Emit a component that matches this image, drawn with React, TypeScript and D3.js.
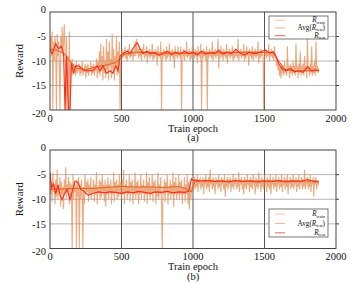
import React from "react";
import * as d3 from "d3";

const xTicks = [0, 500, 1000, 1500, 2000];
const yTicks = [0, -5, -10, -15, -20];

// R_train read every 5 epochs (0..1880)
const trainA = [
  -8, -5, -9, -4, -20, -6, -10, -5, -7, -20, -4.5, -9, -6, -11, -20, -5, -8, -3, -9, -6,
  -2.5, -8, -20, -5, -20, -9, -20, -4, -20, -10, -12, -9.5, -13, -10.5, -12.5, -11, -13, -10, -12.5, -11.5,
  -12, -10.5, -13, -11, -12.5, -10, -13, -11.5, -12, -10.5, -13.5, -11, -12.5, -10.5, -13, -11.5, -12, -10, -13, -11,
  -12.5, -10.5, -13, -11, -12, -9.5, -13.5, -10, -12.5, -8, -13, -6.5, -12, -9, -14, -7, -12.5, -10, -13.5, -5.5,
  -12, -8, -14, -6, -11, -9.5, -13.5, -4.5, -12, -7.5, -14, -9, -11.5, -5, -13, -8, -12.5, -6, -20, -9,
  -8.5, -7.5, -9.5, -8, -9, -7, -9.5, -8.5, -10, -7.5, -9, -6.5, -9.5, -8, -9, -7.5, -10, -8, -9, -6,
  -9, -5.5, -8.5, -7.5, -9.5, -7, -9, -8, -10, -7.5, -8.5, -6.5, -9.5, -8, -9, -7, -10.5, -8, -9, -7.5,
  -9.5, -8, -9, -6.5, -10, -8, -9.5, -7.5, -9, -8, -11, -7, -9, -8.5, -9.5, -6, -20, -8, -9.5, -7.5,
  -9, -8, -10, -7, -9.5, -8, -9, -6.5, -10, -8, -9, -7.5, -9.5, -8, -11.5, -7, -9, -8.5, -9.5, -7,
  -9, -8, -9.5, -7, -20, -8.5, -9, -7.5, -10, -8, -9, -6, -9.5, -8, -9, -7.5, -10, -8, -9.5, -7,
  -9, -8, -9.5, -7.5, -9, -8, -10.5, -7, -9, -8, -9.5, -6.5, -20, -8, -9.5, -7.5, -9, -8, -10, -7,
  -20, -8, -9.5, -7.5, -9, -8, -9.5, -6, -10, -8, -9, -7.5, -9.5, -8, -9, -5.5, -11.5, -8, -9.5, -7,
  -9, -8, -10, -7.5, -9, -8, -9.5, -6.5, -10.5, -8, -9, -7.5, -9.5, -8, -9, -7, -10, -8, -9.5, -7.5,
  -9, -8, -9.5, -5.5, -10, -8, -9, -7.5, -9.5, -8, -9, -6.5, -10, -8, -9.5, -7, -9, -8, -11, -7.5,
  -9, -8, -9.5, -7, -10, -8, -9, -7.5, -9.5, -8, -9, -6, -10.5, -8, -9.5, -7.5, -9, -8, -9.5, -20,
  -8, -9, -7.5, -9.5, -8, -9, -6.5, -10, -8, -9, -7.5, -9.5, -8, -10, -7, -9, -9.5, -11, -10, -12,
  -10.5, -13, -11, -13.5, -10.5, -12.5, -11, -13, -10, -12.5, -11.5, -13, -7, -12, -11, -13.5, -10.5, -12.5, -11, -13,
  -10, -12.5, -11, -13, -6.5, -12, -11, -13.5, -10.5, -12.5, -8, -13, -11, -12.5, -10.5, -13, -9, -12, -11, -13.5,
  -5, -12, -11, -13, -10.5, -12.5, -7, -13, -11, -12.5, -10, -13, -6, -12, -11, -12.5, -11.5,
];

const trainB = [
  -5, -9, -6.5, -10.5, -4.5, -8.5, -7, -11, -6, -9.5, -4, -10, -7, -8.5, -5.5, -11.5, -6.5, -9, -7.5, -12,
  -6, -9, -3.5, -10, -7, -8.5, -5.5, -11, -6.5, -9.5, -7, -20, -5, -10, -6.5, -8.5, -7, -20, -6, -9.5,
  -5.5, -20, -7, -10, -6, -8.5, -20, -7.5, -11, -5, -9, -6.5, -8.5, -6, -10.5, -7, -9, -5.5, -10, -7.5,
  -8.5, -6, -10.5, -7, -9, -4.5, -11, -7.5, -8.5, -6, -10, -6.5, -9.5, -5, -8.5, -7, -10.5, -6, -11.5, -7,
  -9, -5.5, -10, -7, -8.5, -6, -11, -7.5, -9, -4.5, -10.5, -6.5, -8.5, -6, -10, -7, -9.5, -5, -9, -6.5,
  -10, -6, -9, -4, -11, -7, -8.5, -6, -10, -7.5, -9, -5, -10.5, -6.5, -8.5, -6, -11, -7.5, -9, -4.5,
  -10, -6.5, -9, -6, -11, -7.5, -9, -5, -10, -7, -8.5, -6, -10.5, -7.5, -9, -4.5, -11, -6.5, -9, -5.5,
  -10, -7.5, -9, -5, -10.5, -6.5, -8.5, -6, -11, -7.5, -9.5, -4.5, -10, -7, -9, -5.5, -11, -20, -7.5, -9,
  -6, -10.5, -6.5, -8.5, -5, -11, -7.5, -9, -6, -10, -7, -9, -4.5, -11.5, -6.5, -9, -5.5, -10, -7.5, -9,
  -5, -10, -6.5, -9, -6, -11, -7.5, -9, -5.5, -10.5, -7, -9, -5, -11, -6.5, -12, -6, -10, -7.5, -8.5,
  -6.5, -7.5, -5.5, -8, -6, -7.5, -5, -8.5, -6, -7, -5.5, -8, -6.5, -7.5, -5.5, -9, -6, -7, -5, -8,
  -6.5, -7.5, -5.5, -8.5, -4, -7, -6, -8, -5.5, -7.5, -6.5, -9, -5.5, -7, -6, -8, -5, -7.5, -6.5, -8.5,
  -5.5, -7, -6, -8, -5, -9.5, -6.5, -7.5, -5.5, -8, -6, -7, -5.5, -8.5, -6.5, -7.5, -5, -8, -6, -7,
  -5.5, -8, -6.5, -7.5, -4.5, -8.5, -6, -7, -5.5, -8, -6.5, -9, -5.5, -7.5, -6, -8, -5, -7, -6.5, -8.5,
  -5.5, -7.5, -6, -8, -5, -7, -6.5, -9, -5.5, -7.5, -6, -8, -4.5, -7, -6.5, -8.5, -5.5, -7.5, -6, -8,
  -5, -7, -6.5, -8.5, -5.5, -7.5, -6, -8, -5, -9, -6.5, -7, -5.5, -8, -6, -7.5, -5, -8.5, -6.5, -7,
  -5.5, -8, -6, -7.5, -5, -8.5, -6.5, -7, -5.5, -8, -6, -7.5, -5, -9, -6.5, -7, -5.5, -8, -6, -7.5,
  -5, -8, -6.5, -7, -5.5, -8.5, -6, -7.5, -5, -8, -6.5, -7, -5.5, -8, -6, -7.5, -4, -8, -6.5, -7,
  -5.5, -8, -6, -7.5, -5, -8.5, -6.5, -7, -5.5, -9.5, -6, -7, -5.5, -8, -6.5, -7, -6.5,
];

const testEpochA = [0, 15, 40, 60, 80, 95, 105, 115, 130, 140, 150, 165, 180, 200, 220, 240, 270, 300, 330, 350, 370, 395, 420, 440, 460, 475, 490, 510, 540, 560, 590, 610, 630, 650, 680, 700, 730, 760, 790, 820, 850, 880, 910, 940, 970, 1000, 1030, 1060, 1090, 1120, 1150, 1180, 1210, 1240, 1270, 1300, 1330, 1360, 1390, 1420, 1450, 1480, 1510, 1540, 1560, 1580, 1600, 1620, 1650, 1680, 1710, 1740, 1770, 1800, 1830, 1860, 1880];
const testA = [-7.7, -8.5, -6.5, -7.5, -7, -8.5, -20, -9, -20, -20, -10.5, -12.5, -11, -11, -11.5, -12, -12, -12, -11, -12, -11, -12.5, -12, -12.5, -11, -12, -9, -8.5, -8, -8.5, -7, -6.3, -7.5, -8.5, -8, -8.5, -8.3, -8.8, -8.5, -8, -8.7, -8.2, -8.6, -8, -8.5, -8.2, -8.8, -8, -8.6, -8.3, -8.5, -7.8, -8.6, -8.2, -8.5, -7.6, -8.4, -8.8, -8.2, -8.5, -8.4, -8, -7.8, -8.4, -8.1, -9, -10.5, -11.5, -12, -11.5, -12.2, -12, -12.3, -11.2, -12, -11.8, -12];

const avgEpochA = [0, 50, 100, 140, 180, 250, 320, 400, 460, 490, 520, 600, 700, 800, 1000, 1200, 1400, 1560, 1600, 1640, 1700, 1880];
const avgA = [-7.6, -7.8, -8.5, -10, -11.4, -11.8, -11.2, -10.8, -10.3, -9.5, -8.6, -8.2, -8.3, -8.4, -8.4, -8.3, -8.2, -8.3, -10, -11.7, -12, -12];

const testEpochB = [0, 12, 25, 40, 55, 70, 85, 100, 120, 140, 160, 175, 198, 215, 235, 268, 300, 340, 380, 420, 460, 500, 540, 580, 620, 660, 700, 740, 780, 820, 860, 900, 940, 970, 990, 1005, 1020, 1050, 1100, 1150, 1200, 1250, 1300, 1350, 1400, 1450, 1500, 1550, 1600, 1650, 1700, 1750, 1800, 1850, 1880];
const testB = [-4.6, -7.7, -6.9, -8.9, -7.1, -9.2, -10.1, -9, -8, -10.1, -8, -6.3, -6.7, -8, -8.3, -9.2, -8.8, -8.5, -8.7, -8.5, -8.6, -8.8, -8.5, -8.7, -8.4, -8.6, -8.8, -8.5, -8.6, -8.4, -8.7, -8.5, -8.6, -8.4, -5.8, -6.2, -6.1, -6.3, -6.2, -6.4, -6.3, -6.5, -6.2, -6.4, -6.3, -6.5, -6.3, -6.4, -6.2, -6.5, -6.3, -6.4, -6, -6.5, -6.4];

const avgEpochB = [0, 100, 200, 300, 400, 500, 600, 700, 800, 900, 960, 990, 1010, 1050, 1880];
const avgB = [-8, -7.9, -7.8, -7.8, -7.6, -7.4, -7.5, -7.5, -7.6, -7.4, -8, -8.5, -6.5, -6.3, -6.3];

const trainEpochs = d3.range(0, 1881, 5);

const C_TRAIN = "#E3894F";
const C_AVG = "#E0601C";
const C_TEST = "#FF2A1A";
const FONT = "'Liberation Serif', 'Times New Roman', 'DejaVu Serif', serif";

type PanelProps = {
  top: number;
  bottom: number;
  train: number[];
  testE: number[];
  test: number[];
  avgE: number[];
  avg: number[];
  label: string;
  legendTop: number;
  legendH: number;
};

function Panel({ top, bottom, train, testE, test, avgE, avg, label, legendTop, legendH }: PanelProps) {
  const left = 50;
  const right = 336;
  const x = d3.scaleLinear().domain([0, 2000]).range([left, right]);
  const y = d3.scaleLinear().domain([-20, 0]).range([bottom, top]);
  const line = d3
    .line<[number, number]>()
    .x((d) => x(d[0]))
    .y((d) => y(d[1]));
  const trainPts = train.map((v, i) => [trainEpochs[i], v] as [number, number]);
  const testPts = test.map((v, i) => [testE[i], v] as [number, number]);
  const avgPts = avg.map((v, i) => [avgE[i], v] as [number, number]);
  const lx = 269;
  const lw = 59;
  const rowH = legendH / 3;
  const legendItems = [
    { color: "#F6CDB3", main: "R", sub: "train", avg: false },
    { color: "#EDBB9B", main: "R", sub: "test", avg: true },
    { color: "#F77A6E", main: "R", sub: "test", avg: false },
  ];
  return (
    <g>
      <defs>
        <clipPath id={`clip-${label}`}>
          <rect x={left} y={top} width={right - left} height={bottom - top} />
        </clipPath>
      </defs>
      {yTicks.slice(1, 4).map((t) => (
        <line key={`h${t}`} x1={left} x2={right} y1={y(t)} y2={y(t)} stroke="#b4b4b4" strokeWidth={1} />
      ))}
      {xTicks.slice(1, 4).map((t) => (
        <line key={`v${t}`} x1={x(t)} x2={x(t)} y1={top} y2={bottom} stroke="#555" strokeWidth={1} />
      ))}
      <g clipPath={`url(#clip-${label})`}>
        <path d={line(trainPts) || ""} fill="none" stroke={C_TRAIN} strokeOpacity={0.72} strokeWidth={1.1} />
        <path d={line(avgPts) || ""} fill="none" stroke={C_AVG} strokeWidth={1} />
        <path d={line(testPts) || ""} fill="none" stroke={C_TEST} strokeWidth={1.1} />
      </g>
      <rect x={left} y={top} width={right - left} height={bottom - top} fill="none" stroke="#444" strokeWidth={1} />
      {yTicks.slice(1, 4).map((t) => (
        <line key={`rt${t}`} x1={right} x2={right + 3} y1={y(t)} y2={y(t)} stroke="#444" strokeWidth={1} />
      ))}
      {yTicks.map((t) => (
        <text
          key={`yl${t}`}
          x={left - 4}
          y={y(t) + (t === 0 ? -3 : t === -20 ? 3 : 0)}
          dy="0.35em"
          textAnchor="end"
          fontFamily={FONT}
          fontSize={10.5}
          fill="#111"
        >
          {t}
        </text>
      ))}
      {xTicks.map((t) => (
        <text key={`xl${t}`} x={x(t)} y={bottom + 11.5} textAnchor="middle" fontFamily={FONT} fontSize={10.5} fill="#111">
          {t}
        </text>
      ))}
      <text x={(left + right) / 2} y={bottom + 21.5} textAnchor="middle" fontFamily={FONT} fontSize={10.5} fill="#111">
        Train epoch
      </text>
      <text x={(left + right) / 2} y={bottom + 31} textAnchor="middle" fontFamily={FONT} fontSize={10.5} fill="#111">
        ({label})
      </text>
      <text
        transform={`translate(${left - 27},${(top + bottom) / 2}) rotate(-90)`}
        textAnchor="middle"
        fontFamily={FONT}
        fontSize={11}
        fill="#111"
      >
        Reward
      </text>
      <rect x={lx} y={legendTop} width={lw} height={legendH} fill="white" stroke="#555" strokeWidth={0.8} />
      {legendItems.map((it, i) => {
        const cy = legendTop + rowH * (i + 0.55);
        return (
          <g key={i}>
            <line x1={lx + 6} x2={lx + 16} y1={cy} y2={cy} stroke={it.color} strokeWidth={1.2} />
            <text x={lx + lw - 3} y={cy + 2.2} textAnchor="end" fontFamily={FONT} fontSize={7.2} fill="#111">
              {it.avg ? (
                <>
                  Avg(<tspan fontStyle="italic">{it.main}</tspan>
                  <tspan fontSize={4.6} dy={1.3}>{it.sub}</tspan>
                  <tspan dy={-1.3}>)</tspan>
                </>
              ) : (
                <>
                  <tspan fontStyle="italic">{it.main}</tspan>
                  <tspan fontSize={4.6} dy={1.3}>{it.sub}</tspan>
                </>
              )}
            </text>
          </g>
        );
      })}
    </g>
  );
}

export default function App() {
  return (
    <svg
      width={362}
      height={284}
      style={{ position: "absolute", left: 0, top: 0, background: "white", fontFamily: FONT }}
    >
      <rect width={362} height={284} fill="white" />
      <Panel top={12} bottom={110} train={trainA} testE={testEpochA} test={testA} avgE={avgEpochA} avg={avgA} label="a" legendTop={16} legendH={23} />
      <Panel top={150} bottom={248.5} train={trainB} testE={testEpochB} test={testB} avgE={avgEpochB} avg={avgB} label="b" legendTop={209} legendH={28} />
    </svg>
  );
}
